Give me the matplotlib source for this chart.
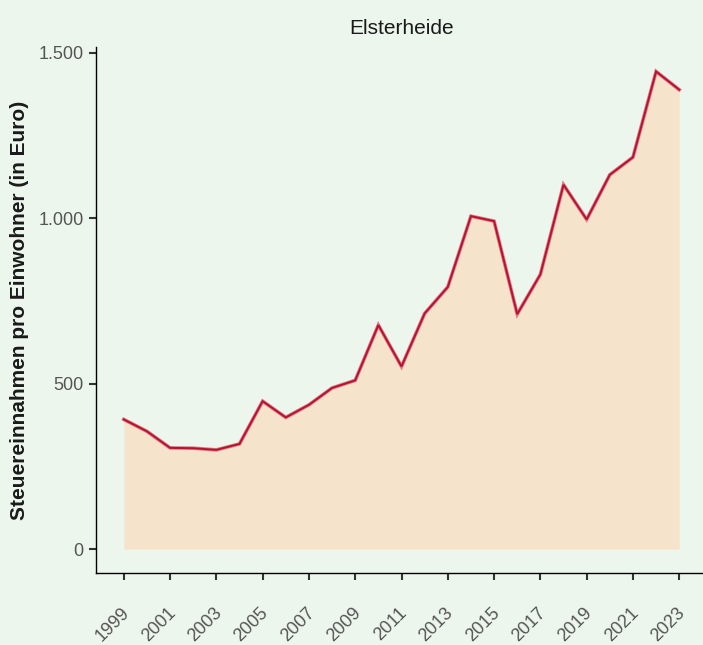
import matplotlib
matplotlib.use("Agg")
import matplotlib.pyplot as plt
from matplotlib.ticker import FuncFormatter
from matplotlib.transforms import ScaledTranslation

# Steuereinnahmen pro Einwohner, Elsterheide
years = list(range(1999, 2024))
values = [392, 356, 306, 305, 300, 318, 447, 398, 436, 487, 510,
          677, 552, 712, 792, 1006, 991, 710, 830, 1101, 996,
          1131, 1184, 1443, 1388]

y_ticks = [0, 500, 1000, 1500]
x_ticks = list(range(1999, 2024, 2))

bg = "#EDF6EC"
fill_col = "#F6E3CB"
line_col = "#B8122E"

plt.rcParams['font.family'] = ['Liberation Sans', 'DejaVu Sans']

fig = plt.figure(figsize=(7.03, 6.45), dpi=100, facecolor=bg)
ax = fig.add_axes([96 / 703, 1 - 573 / 645, (707 - 96) / 703, (573 - 47) / 645])
ax.set_facecolor(bg)

ax.fill_between(years, 0, values, color=fill_col, linewidth=0)
ax.plot(years, values, color="#DA7A88", linewidth=2.6, solid_joinstyle="miter")
ax.plot(years, values, color=line_col, linewidth=1.4, solid_joinstyle="miter")

ax.set_xlim(1997.8, 2024.2)
ax.set_ylim(-72, 1517)
ax.set_xticks(x_ticks)
ax.set_yticks(y_ticks)
ax.yaxis.set_major_formatter(FuncFormatter(lambda v, p: "{:,.0f}".format(v).replace(",", ".")))

for s in ["top", "right"]:
    ax.spines[s].set_visible(False)
for s in ["left", "bottom"]:
    ax.spines[s].set_color("black")
    ax.spines[s].set_linewidth(1.0)

ax.tick_params(axis="both", colors="#333333", width=1.5, length=5,
               labelsize=13, labelcolor="#555555")
ax.tick_params(axis="x", pad=12)
ax.tick_params(axis="y", pad=4)
shift = ScaledTranslation(-3 / 100, -8 / 100, fig.dpi_scale_trans)
for lab in ax.get_xticklabels():
    lab.set_rotation(45)
    lab.set_ha("right")
    lab.set_rotation_mode("anchor")
    lab.set_transform(lab.get_transform() + shift)

ax.set_title("Elsterheide", fontsize=15, color="#1A1A1A", pad=9)
ax.set_ylabel("Steuereinnahmen pro Einwohner (in Euro)", fontsize=15,
              fontweight="bold", color="#1A1A1A", labelpad=7)

fig.savefig("out.png", dpi=100, facecolor=bg)
